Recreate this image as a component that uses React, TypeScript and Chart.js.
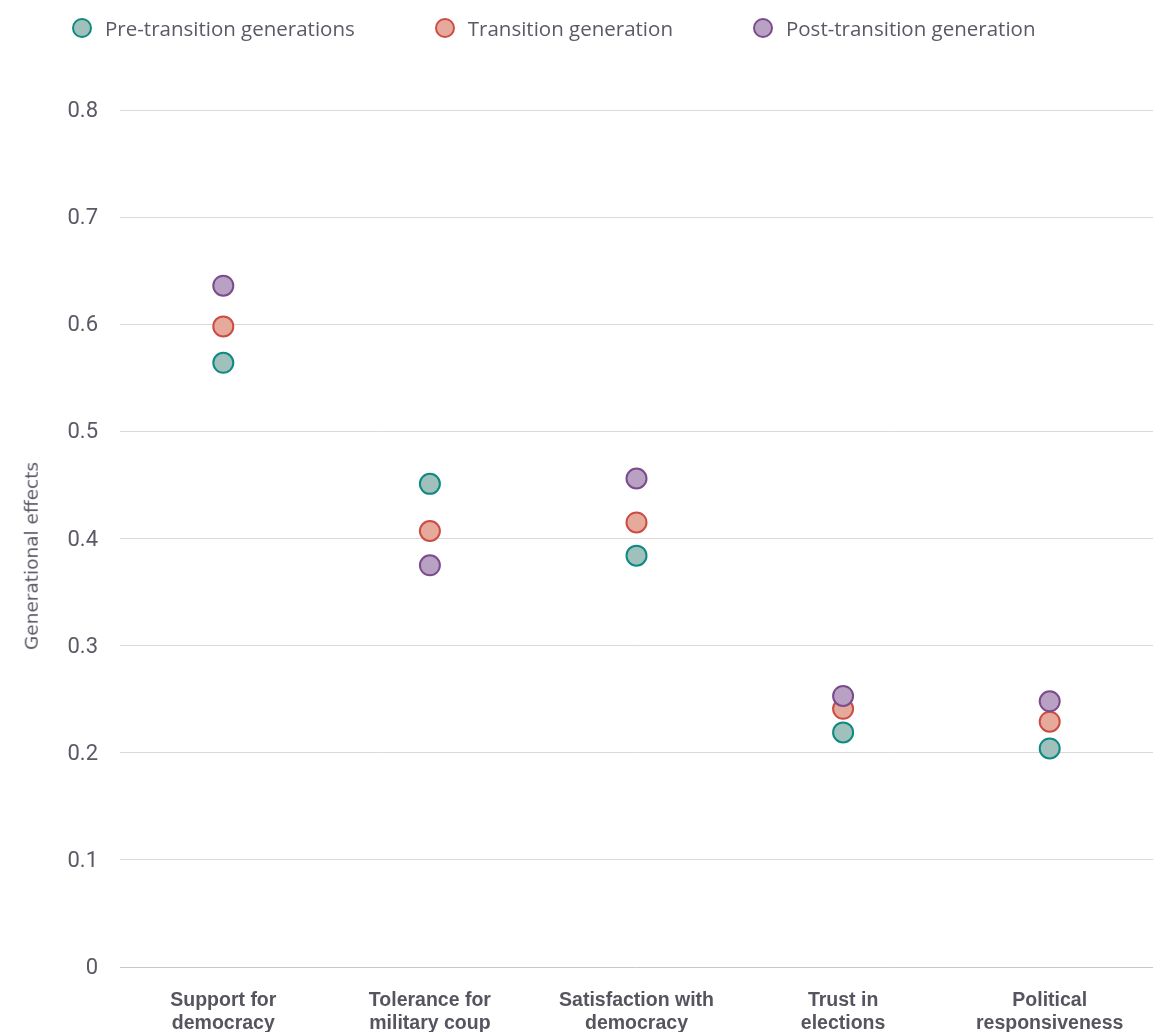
import React, { useEffect, useRef } from "react";
import { Chart, registerables } from "chart.js";

Chart.register(...registerables);

const categories: string[][] = [
  ["Support for", "democracy"],
  ["Tolerance for", "military coup"],
  ["Satisfaction with", "democracy"],
  ["Trust in", "elections"],
  ["Political", "responsiveness"],
];

const seriesNames = ["Pre-transition generations", "Transition generation", "Post-transition generation"];
const preTransition = [0.564, 0.451, 0.384, 0.219, 0.204];
const transition = [0.598, 0.407, 0.415, 0.241, 0.229];
const postTransition = [0.636, 0.375, 0.456, 0.253, 0.248];
const yTicks = [0, 0.1, 0.2, 0.3, 0.4, 0.5, 0.6, 0.7, 0.8];
const yTitle = "Generational effects";

const borderColors = ["#0e8a82", "#cc4d44", "#7b4b8e"];
const fillColors = ["#a0c0bc", "#e6aa9c", "#b8a1c3"];
const seriesValues = [preTransition, transition, postTransition];

export default function App() {
  const ref = useRef<HTMLCanvasElement>(null);

  useEffect(() => {
    if (!ref.current) return;
    const chart = new Chart(ref.current, {
      type: "line",
      data: {
        labels: categories as any,
        datasets: seriesValues.map((vals, i) => ({
          label: seriesNames[i],
          data: vals,
          showLine: false,
          pointRadius: 10,
          pointHoverRadius: 10,
          pointBorderWidth: 2,
          pointBackgroundColor: fillColors[i],
          pointBorderColor: borderColors[i],
          backgroundColor: fillColors[i],
          borderColor: borderColors[i],
          order: 2 - i,
          clip: false as any,
        })),
      },
      options: {
        responsive: false,
        animation: false,
        events: [],
        layout: { autoPadding: false, padding: { top: 110, right: 0, bottom: 0, left: 0 } },
        plugins: {
          legend: { display: false },
          tooltip: { enabled: false },
        },
        scales: {
          x: {
            offset: true,
            grid: { display: false, drawTicks: false },
            border: { display: false },
            ticks: {
              padding: 22,
              color: "#555560",
              maxRotation: 0,
              autoSkip: false,
              font: { family: "Liberation Sans", size: 19.5, weight: "bold", lineHeight: 1.18 },
            },
            afterFit: (scale: any) => {
              scale.height = 65;
              scale.paddingLeft = 0;
              scale.paddingRight = 0;
            },
          },
          y: {
            min: 0,
            max: 0.8,
            afterBuildTicks: (scale: any) => {
              scale.ticks = yTicks.map((v) => ({ value: v }));
            },
            grid: {
              drawTicks: false,
              color: (ctx: any) => (ctx.tick && ctx.tick.value === 0 ? "#c8c8c8" : "#d9d9d9"),
              lineWidth: 1,
            },
            border: { display: false },
            ticks: {
              padding: 22,
              labelOffset: 1.5,
              color: "#5a5a66",
              font: { family: "Roboto", size: 22 },
              callback: (v: any) => String(Math.round(Number(v) * 10) / 10),
            },
            afterFit: (scale: any) => {
              scale.width = 120;
            },
          },
        },
      },
    });
    return () => chart.destroy();
  }, []);

  return (
    <div style={{ position: "absolute", left: 0, top: 0, width: 1153, height: 1032, background: "#fff", overflow: "hidden" }}>
      <div
        style={{
          position: "absolute",
          left: 72,
          top: 14,
          display: "flex",
          alignItems: "center",
          gap: 80,
          fontFamily: "'Open Sans'",
          fontSize: 20.5,
          color: "#5a5a66",
          whiteSpace: "nowrap",
        }}
      >
        {seriesNames.map((name, i) => (
          <div key={name} style={{ display: "flex", alignItems: "center" }}>
            <span
              style={{
                display: "inline-block",
                width: 16,
                height: 16,
                borderRadius: "50%",
                border: `2px solid ${borderColors[i]}`,
                background: fillColors[i],
                marginRight: 13,
              }}
            />
            <span>{name}</span>
          </div>
        ))}
      </div>
      <div
        style={{
          position: "absolute",
          left: 32,
          top: 556,
          transform: "translate(-50%, -50%) rotate(-90deg)",
          fontFamily: "'DejaVu Sans'",
          fontSize: 18.5,
          color: "#5a5a66",
          whiteSpace: "nowrap",
          lineHeight: 1,
        }}
      >
        {yTitle}
      </div>
      <canvas ref={ref} width={1153} height={1032} style={{ display: "block" }} />
    </div>
  );
}
